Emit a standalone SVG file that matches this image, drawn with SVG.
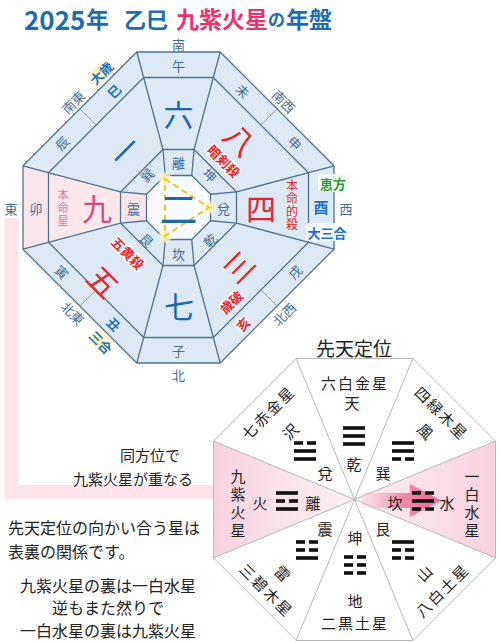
<svg xmlns="http://www.w3.org/2000/svg" width="500" height="643" viewBox="0 0 500 643">
<style>
text{font-family:"Noto Sans CJK JP","Noto Sans",sans-serif;text-anchor:middle;dominant-baseline:central}
.vt{writing-mode:vertical-rl}
.ln{fill:none;stroke:#51728f;stroke-width:1.3;stroke-linejoin:round}
.thin{fill:none;stroke:#8fa8bf;stroke-width:1}
.lb{font-size:13px;fill:#3f6d96}
.num{font-size:30px;fill:#2067a8}
.red{fill:#e3262d}
.redb{font-size:13px;font-weight:bold;fill:#e3262d;stroke:#fff;stroke-width:2.5px;paint-order:stroke}
.bb{font-weight:bold;fill:#1a72c4}
.k{fill:#222;font-size:15px}
.gl{stroke:#b7b7b7;stroke-width:1;fill:none}
.note{fill:#222;font-size:16px}
.tri{fill:#111}
</style>
<defs>
  <linearGradient id="pinkL" gradientUnits="userSpaceOnUse" x1="213.5" y1="0" x2="354.5" y2="0">
    <stop offset="0" stop-color="#f8d2de"/><stop offset="1" stop-color="#fcf0f4"/>
  </linearGradient>
  <linearGradient id="pinkR" gradientUnits="userSpaceOnUse" x1="495.5" y1="0" x2="354.5" y2="0">
    <stop offset="0" stop-color="#f8d2de"/><stop offset="1" stop-color="#fcf0f4"/>
  </linearGradient>
  <linearGradient id="arrowG" gradientUnits="userSpaceOnUse" x1="360" y1="0" x2="430" y2="0">
    <stop offset="0" stop-color="#f7b9cc" stop-opacity="0.2"/><stop offset="0.6" stop-color="#f28cab"/><stop offset="1" stop-color="#ef6f98"/>
  </linearGradient>
  <radialGradient id="glow">
    <stop offset="0" stop-color="#fff6a8"/><stop offset="0.6" stop-color="#fff3b8" stop-opacity="0.8"/><stop offset="1" stop-color="#fff8d0" stop-opacity="0"/>
  </radialGradient>
  <rect id="s" x="-11" width="22" height="3.6"/>
  <g id="b"><rect x="-11" width="9" height="3.6"/><rect x="2" width="9" height="3.6"/></g>
  <g id="t-qian"><use href="#s" y="-9.8"/><use href="#s" y="-1.8"/><use href="#s" y="6.2"/></g>
  <g id="t-dui"><use href="#b" y="-9.8"/><use href="#s" y="-1.8"/><use href="#s" y="6.2"/></g>
  <g id="t-li"><use href="#s" y="-9.8"/><use href="#b" y="-1.8"/><use href="#s" y="6.2"/></g>
  <g id="t-zhen"><use href="#b" y="-9.8"/><use href="#b" y="-1.8"/><use href="#s" y="6.2"/></g>
  <g id="t-xun"><use href="#s" y="-9.8"/><use href="#s" y="-1.8"/><use href="#b" y="6.2"/></g>
  <g id="t-kan"><use href="#b" y="-9.8"/><use href="#s" y="-1.8"/><use href="#b" y="6.2"/></g>
  <g id="t-gen"><use href="#s" y="-9.8"/><use href="#b" y="-1.8"/><use href="#b" y="6.2"/></g>
  <g id="t-kun"><use href="#b" y="-9.8"/><use href="#b" y="-1.8"/><use href="#b" y="6.2"/></g>
</defs>

<rect width="500" height="643" fill="#fff"/>

<g id="connectors">
  <path d="M11.5,218 V492 H214" fill="none" stroke="#fde4eb" stroke-width="14"/>
</g>

<g id="title">
  <text y="18" style="text-anchor:start;font-weight:bold">
    <tspan x="24" font-size="26" fill="#1b6db3">2025</tspan><tspan x="86" font-size="23" fill="#1b6db3">年</tspan><tspan x="124" font-size="22" fill="#1b6db3">乙巳</tspan><tspan x="176" font-size="23" fill="#e6346e">九紫火星</tspan><tspan x="268" font-size="17" fill="#1b6db3">の</tspan><tspan x="286" font-size="23" fill="#1b6db3">年盤</tspan>
  </text>
</g>

<g id="nenban">
  <path d="M136.83,52 L220.17,52 L334,165.83 L334,249.17 L220.17,363 L136.83,363 L23,249.17 L23,165.83 Z" fill="#dde9f5"/>
  <polygon points="23,165.83 48.5,172.67 48.5,242.33 23,249.17" fill="#fce4eb"/>
  <polygon points="48.5,172.67 120.5,191.96 120.5,223.04 48.5,242.33" fill="#fce7ed"/>
  <polygon points="120.5,191.96 146.5,194.25 146.5,220.75 120.5,223.04" fill="#fce4eb"/>
  <polygon points="165.25,175.5 191.75,175.5 210.5,194.25 210.5,220.75 191.75,239.5 165.25,239.5 146.5,220.75 146.5,194.25" fill="#f8fbfe"/>

  <g id="grid">
    <path class="ln" d="M136.83,52 L220.17,52 L334,165.83 L334,249.17 L220.17,363 L136.83,363 L23,249.17 L23,165.83 Z"/>
    <path class="ln" d="M143.67,77.5 L213.33,77.5 L308.5,172.67 L308.5,242.33 L213.33,337.5 L143.67,337.5 L48.5,242.33 L48.5,172.67 Z"/>
    <path class="ln" d="M162.96,149.5 L194.04,149.5 L236.5,191.96 L236.5,223.04 L194.04,265.5 L162.96,265.5 L120.5,223.04 L120.5,191.96 Z"/>
    <path class="ln" d="M165.25,175.5 L191.75,175.5 L210.5,194.25 L210.5,220.75 L191.75,239.5 L165.25,239.5 L146.5,220.75 L146.5,194.25 Z"/>
    <path class="ln" d="M136.83,52 L162.96,149.5 L165.25,175.5 M220.17,52 L194.04,149.5 L191.75,175.5 M334,165.83 L236.5,191.96 L210.5,194.25 M334,249.17 L236.5,223.04 L210.5,220.75 M220.17,363 L194.04,265.5 L191.75,239.5 M136.83,363 L162.96,265.5 L165.25,239.5 M23,249.17 L120.5,223.04 L146.5,220.75 M23,165.83 L120.5,191.96 L146.5,194.25"/>
    <path class="thin" d="M79.92,108.92 L96.08,125.08 M277.08,108.92 L260.92,125.08 M277.08,306.08 L260.92,289.92 M79.92,306.08 L96.08,289.92"/>
  </g>

  <g id="sanngou">
    <circle cx="165" cy="179" r="8" fill="url(#glow)"/>
    <circle cx="209" cy="207.5" r="8" fill="url(#glow)"/>
    <circle cx="165" cy="236" r="8" fill="url(#glow)"/>
    <polygon points="165,179 209,207.5 165,236" fill="none" stroke="#f0c230" stroke-width="2" stroke-dasharray="6 4"/>
  </g>

  <g id="outer-labels">
    <text class="lb" x="178.5" y="44">南</text>
    <text class="lb" x="178.5" y="374">北</text>
    <text class="lb" x="11" y="208">東</text>
    <text class="lb" x="346" y="208">西</text>
    <text class="lb" transform="translate(284,101) rotate(45)">南西</text>
    <text class="lb" transform="translate(73,102) rotate(-45)">南東</text>
    <text class="lb" transform="translate(73,313) rotate(45)">北東</text>
    <text class="lb" transform="translate(284,314) rotate(-45)">北西</text>
    <ellipse cx="101" cy="73" rx="17" ry="11" transform="rotate(-45 101 73)" fill="url(#glow)"/>
    <text class="lb bb" transform="translate(101,73) rotate(-45)">大歳</text>
    <ellipse cx="101" cy="342" rx="17" ry="11" transform="rotate(45 101 342)" fill="url(#glow)"/>
    <text class="lb bb" transform="translate(101,342) rotate(45)">三合</text>
    <rect x="318" y="174" width="31" height="18" rx="3" fill="#f4fbf2" opacity="0.9"/>
    <text x="333" y="183" style="font-size:13px;font-weight:bold;fill:#2f9a3c">恵方</text>
    <rect x="306" y="223" width="42" height="18" rx="3" fill="#f7fbff" opacity="0.9"/>
    <text class="bb" x="327" y="232" style="font-size:13px">大三合</text>
  </g>

  <g id="branch-ring">
    <text class="lb" x="178.5" y="65">午</text>
    <text class="lb" transform="translate(243,91) rotate(45)">未</text>
    <text class="lb" transform="translate(295,143) rotate(45)">申</text>
    <text class="bb" x="321" y="206" style="font-size:15px">酉</text>
    <text class="lb" transform="translate(295,272) rotate(-45)">戌</text>
    <text class="redb" transform="translate(243,324) rotate(-45)">亥</text>
    <text class="lb" x="178.5" y="350">子</text>
    <text class="lb bb" transform="translate(114,324) rotate(45)">丑</text>
    <text class="lb" transform="translate(62,272) rotate(45)">寅</text>
    <text class="lb" x="36" y="208">卯</text>
    <text class="lb" transform="translate(62,143) rotate(-45)">辰</text>
    <text class="lb bb" transform="translate(114,91) rotate(-45)">巳</text>
  </g>

  <g id="star-ring">
    <text class="num" x="178.5" y="113">六</text>
    <text class="num red" transform="translate(241,139) rotate(45)">八</text>
    <text class="redb" transform="translate(224,161) rotate(45)">暗剣殺</text>
    <text class="num red" x="261" y="207">四</text>
    <text class="vt" x="292" y="205.5" style="font-size:12px;fill:#e3262d;letter-spacing:1px">本命的殺</text>
    <text class="num red" transform="translate(238,266) rotate(-45)">三</text>
    <text class="redb" transform="translate(231,302) rotate(-45)">歳破</text>
    <text class="num" x="179" y="305">七</text>
    <text class="num red" transform="translate(104,281) rotate(45)">五</text>
    <text class="redb" transform="translate(128,253) rotate(45)">五黄殺</text>
    <text class="num" x="97" y="207" style="fill:#d8487c">九</text>
    <text class="vt" x="63" y="209" style="font-size:11px;fill:#e0789c;letter-spacing:2px">本命星</text>
    <text class="num" transform="translate(124,150) rotate(-45)">一</text>
  </g>

  <g id="trigram-ring">
    <text class="lb" x="178.5" y="162">離</text>
    <text class="lb" transform="translate(210,175) rotate(45)">坤</text>
    <text class="lb" x="223.5" y="208">兌</text>
    <text class="lb" transform="translate(210,240) rotate(-45)">乾</text>
    <text class="lb" x="178.5" y="253">坎</text>
    <text class="lb" transform="translate(147,240) rotate(45)">艮</text>
    <text class="lb" x="133.5" y="208">震</text>
    <text class="lb" transform="translate(147,175) rotate(-45)">巽</text>
  </g>

  <text id="center-star" x="178.5" y="206" style="font-size:38px;fill:#2067a8">二</text>
</g>

<g id="senten">
  <text x="354" y="347" style="font-size:19px;fill:#222">先天定位</text>
  <polygon points="354.5,499.5 213.5,441.1 213.5,557.9" fill="url(#pinkL)"/>
  <polygon points="354.5,499.5 495.5,441.1 495.5,557.9" fill="url(#pinkR)"/>
  <path class="gl" d="M296.1,358.5 L412.9,358.5 L495.5,441.1 L495.5,557.9 L412.9,640.5 L296.1,640.5 L213.5,557.9 L213.5,441.1 Z"/>
  <path class="gl" d="M296.1,358.5 L412.9,640.5 M412.9,358.5 L296.1,640.5 M495.5,441.1 L213.5,557.9 M495.5,557.9 L213.5,441.1"/>
  <polygon points="362,493 410,493 410,484 441,500.5 410,517 410,508 362,508" fill="url(#arrowG)"/>

  <g class="tri">
    <use href="#t-qian" x="354" y="436"/>
    <use href="#t-dui" x="305" y="451"/>
    <use href="#t-xun" x="403" y="451"/>
    <use href="#t-li" x="287" y="501"/>
    <use href="#t-kan" x="423" y="501"/>
    <use href="#t-zhen" x="307" y="550"/>
    <use href="#t-gen" x="403" y="550"/>
    <use href="#t-kun" x="355" y="565"/>
  </g>

  <g id="senten-labels">
    <text class="k" x="355" y="382" style="letter-spacing:2px">六白金星</text>
    <text class="k" x="352" y="402">天</text>
    <text class="k" x="354" y="463">乾</text>
    <text class="k" x="325" y="472">兌</text>
    <text class="k" x="383" y="472">巽</text>
    <text class="k" x="313" y="502">離</text>
    <text class="k" x="395" y="502">坎</text>
    <text class="k" x="325" y="528">震</text>
    <text class="k" x="383" y="528">艮</text>
    <text class="k" x="355" y="537">坤</text>
    <text class="k" transform="translate(268,412) rotate(-45)" style="letter-spacing:2px">七赤金星</text>
    <text class="k" transform="translate(290,431) rotate(-45)">沢</text>
    <text class="k" transform="translate(442,413) rotate(45)" style="letter-spacing:2px">四緑木星</text>
    <text class="k" transform="translate(426,431) rotate(45)">風</text>
    <text class="k" x="260" y="502">火</text>
    <text class="k vt" x="238" y="505" style="letter-spacing:3px">九紫火星</text>
    <text class="k" x="447" y="502">水</text>
    <text class="k vt" x="472" y="505" style="letter-spacing:3px">一白水星</text>
    <text class="k" transform="translate(283,573) rotate(45)">雷</text>
    <text class="k" transform="translate(267,590) rotate(45)" style="letter-spacing:2px">三碧木星</text>
    <text class="k" transform="translate(424,573) rotate(-45)">山</text>
    <text class="k" transform="translate(442,590) rotate(-45)" style="letter-spacing:2px">八白土星</text>
    <text class="k" x="355" y="600">地</text>
    <text class="k" x="355" y="622" style="letter-spacing:2px">二黒土星</text>
  </g>
</g>

<g id="notes">
  <text class="note" x="150" y="454" style="font-size:15px">同方位で</text>
  <text class="note" x="133" y="478" style="font-size:15px">九紫火星が重なる</text>
  <text class="note" x="8" y="527" style="text-anchor:start">先天定位の向かい合う星は</text>
  <text class="note" x="8" y="551" style="text-anchor:start">表裏の関係です。</text>
  <text class="note" x="108" y="585">九紫火星の裏は一白水星</text>
  <text class="note" x="108" y="607">逆もまた然りで</text>
  <text class="note" x="108" y="630">一白水星の裏は九紫火星</text>
</g>
</svg>
